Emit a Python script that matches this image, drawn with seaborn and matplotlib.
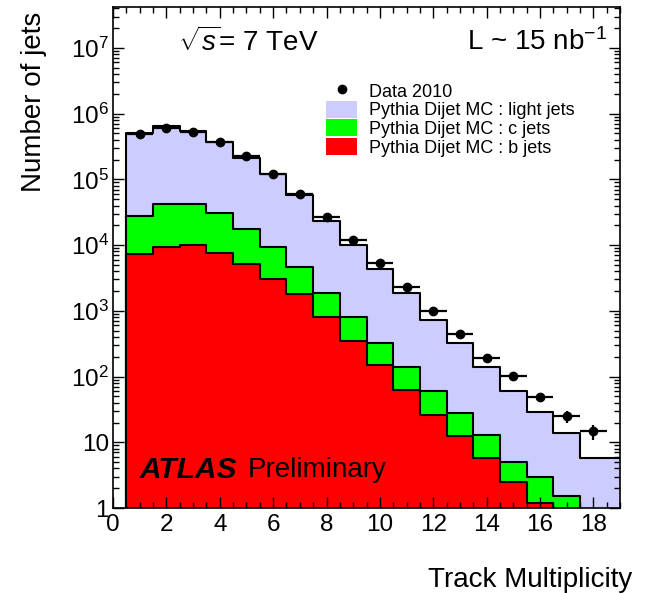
import numpy as np
import pandas as pd
import seaborn as sns
import matplotlib.pyplot as plt
from matplotlib.patches import Patch
from matplotlib.lines import Line2D
from matplotlib.ticker import FixedLocator, FixedFormatter, LogLocator, MultipleLocator, NullFormatter

# -------------------------------------------------------------
# data (track multiplicity bins 1..19)
# -------------------------------------------------------------
bin_edges = [x + 0.5 for x in range(0, 20)]
bin_centers = list(range(1, 20))

b_jets = [7300, 9400, 9900, 7600, 5100, 3000, 1800, 795, 343, 150,
          62, 26, 12.6, 5.8, 2.5, 1.2, 0.8, 0.4, 0.3]
c_jets = [20300, 32600, 32100, 22700, 12400, 6400, 2770, 1045, 452, 170,
          76, 34, 14.9, 7.1, 2.45, 1.73, 0.72, 0.3, 0.3]
light_jets = [472400, 608000, 498000, 339700, 197500, 110600, 52930, 21560,
              9405, 4080, 1702, 663, 292, 125, 56, 26, 12.2, 5.0, 5.1]

data_x = list(range(1, 19))
data_y = [4.87e5, 6.0e5, 5.27e5, 3.7e5, 2.25e5, 1.2e5, 5.96e4, 2.69e4, 1.18e4,
          5300, 2270, 1000, 438, 193, 103, 49, 25, 14.8]
data_err = [700, 770, 730, 610, 470, 350, 244, 164, 109, 73, 48, 32, 21, 14,
            10, 7, 5, 3.8]

y_ticks = [1, 10, 1e2, 1e3, 1e4, 1e5, 1e6, 1e7]
y_ticklabels = ['1', '10', '$10^{2}$', '$10^{3}$', '$10^{4}$', '$10^{5}$',
                '$10^{6}$', '$10^{7}$']

col_light = '#ccccff'
col_c = '#00ff00'
col_b = '#ff0000'

# -------------------------------------------------------------
# style
# -------------------------------------------------------------
sns.set_style('ticks')
plt.rcParams['font.family'] = ['Liberation Sans', 'DejaVu Sans']
plt.rcParams['mathtext.fontset'] = 'custom'
plt.rcParams['mathtext.rm'] = 'Liberation Sans'
plt.rcParams['mathtext.it'] = 'Liberation Sans:italic'
plt.rcParams['mathtext.bf'] = 'Liberation Sans:bold'
for key in ['text.color', 'axes.labelcolor', 'xtick.color', 'ytick.color',
            'axes.edgecolor']:
    plt.rcParams[key] = 'black'

fig = plt.figure(figsize=(6.48, 5.93), dpi=100)
ax = fig.add_axes([0.1744, 0.1433, 0.7825, 0.845])
ax.set_yscale('log')

# stacked histograms, drawn back to front
hist_df = pd.DataFrame({'track': bin_centers, 'b': b_jets, 'c': c_jets,
                        'light': light_jets})
hist_df['bc'] = hist_df['b'] + hist_df['c']
hist_df['total'] = hist_df['bc'] + hist_df['light']
for col_name, col in [('total', col_light), ('bc', col_c), ('b', col_b)]:
    sns.histplot(data=hist_df, x='track', weights=col_name, bins=bin_edges,
                 element='step', fill=True, color=col, alpha=1,
                 edgecolor='black', linewidth=1.5, ax=ax)

ax.errorbar(data_x, data_y, yerr=data_err, xerr=0.5, fmt='o', color='black',
            markersize=6, elinewidth=1.6, capsize=0, zorder=5)

ax.set_xlim(0, 19)
ax.set_ylim(1, 4.2e7)
ax.set_axisbelow(False)

# ticks, ROOT style: inside, all four sides
ax.xaxis.set_major_locator(MultipleLocator(2))
ax.xaxis.set_minor_locator(MultipleLocator(0.5))
ax.yaxis.set_major_locator(FixedLocator(y_ticks))
ax.yaxis.set_major_formatter(FixedFormatter(y_ticklabels))
ax.yaxis.set_minor_locator(LogLocator(base=10, subs=np.arange(2, 10), numticks=20))
ax.yaxis.set_minor_formatter(NullFormatter())
ax.tick_params(which='both', direction='in', top=True, right=True,
               bottom=True, left=True, labelsize=17.5, width=1,
               color='black', zorder=10)
ax.tick_params(which='major', length=8)
ax.tick_params(which='minor', length=4)
ax.tick_params(axis='x', pad=4)
ax.tick_params(axis='y', pad=3)
for sp in ax.spines.values():
    sp.set_linewidth(1.2)
    sp.set_color('black')
    sp.set_zorder(10)

ax.set_xlabel('Track Multiplicity', fontsize=20, loc='right')
ax.xaxis.set_label_coords(1.025, -0.118)
ax.set_ylabel('Number of jets', fontsize=20, loc='top')
ax.yaxis.set_label_coords(-0.13, 0.99)

# legend
handles = [
    Line2D([], [], marker='o', color='black', linestyle='none', markersize=6),
    Patch(facecolor=col_light, edgecolor='none'),
    Patch(facecolor=col_c, edgecolor='none'),
    Patch(facecolor=col_b, edgecolor='none'),
]
labels = ['Data 2010', 'Pythia Dijet MC : light jets',
          'Pythia Dijet MC : c jets', 'Pythia Dijet MC : b jets']
ax.legend(handles, labels, loc='upper left', bbox_to_anchor=(0.42, 0.85),
          frameon=False, fontsize=13, borderpad=0, borderaxespad=0,
          handlelength=1.72, handleheight=1.07, handletextpad=0.66,
          labelspacing=0.0)

# annotations
ax.text(0.128, 0.93, r'$\sqrt{s}$= 7 TeV', transform=ax.transAxes,
        fontsize=20, ha='left', va='center')
ax.text(0.974, 0.93, r'L ~ 15 nb$^{-1}$', transform=ax.transAxes,
        fontsize=20, ha='right', va='center')
ax.text(0.053, 0.076, 'ATLAS', transform=ax.transAxes, fontsize=21.5,
        fontweight='bold', fontstyle='italic', ha='left', va='center')
ax.text(0.266, 0.076, 'Preliminary', transform=ax.transAxes, fontsize=20,
        ha='left', va='center')

fig.savefig('out.png', dpi=100)
